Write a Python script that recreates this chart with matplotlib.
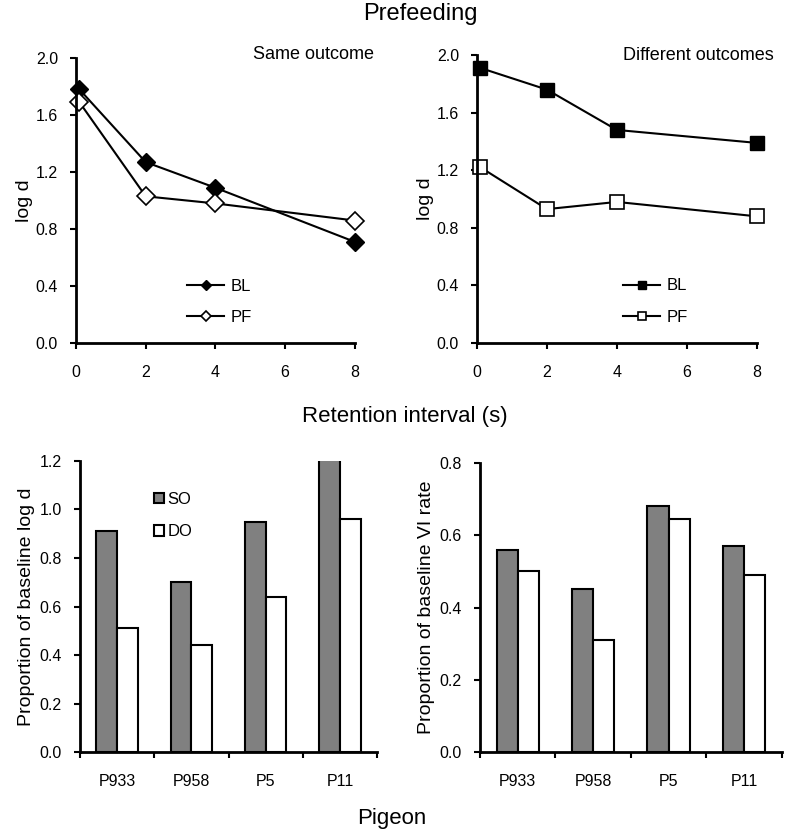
import matplotlib
matplotlib.use("Agg")
import matplotlib.pyplot as plt
import numpy as np

plt.rcParams['font.family'] = ['Liberation Sans', 'DejaVu Sans']

# retention intervals (s)
delays = [0.1, 2, 4, 8]

# same outcome
so_bl = [1.78, 1.27, 1.09, 0.71]
so_pf = [1.69, 1.03, 0.98, 0.86]

# different outcomes
do_bl = [1.91, 1.76, 1.48, 1.39]
do_pf = [1.22, 0.93, 0.98, 0.88]

# pigeons
pigeons = ["P933", "P958", "P5", "P11"]
logd_so = [0.91, 0.70, 0.95, 1.25]
logd_do = [0.51, 0.44, 0.64, 0.96]
vi_so = [0.56, 0.45, 0.68, 0.57]
vi_do = [0.50, 0.31, 0.645, 0.49]

fig = plt.figure(figsize=(7.9, 8.33), dpi=100)

def style(ax):
    for s in ["top", "right"]:
        ax.spines[s].set_visible(False)
    for s in ["left", "bottom"]:
        ax.spines[s].set_linewidth(2)
    ax.tick_params(axis="both", direction="out", length=4, width=1.5,
                   labelsize=11.5, colors="black")
    ax.tick_params(axis="y", pad=9)

ax1 = fig.add_axes([0.0962, 0.5882, 0.353, 0.342])
ax2 = fig.add_axes([0.6038, 0.5882, 0.354, 0.3457])
ax3 = fig.add_axes([0.1013, 0.0972, 0.376, 0.3494])
ax4 = fig.add_axes([0.6076, 0.0972, 0.382, 0.3470])

# top left
ax1.plot(delays, so_bl, color="black", lw=1.5, marker="D", ms=9,
         mfc="black", mec="black", label="BL")
ax1.plot(delays, so_pf, color="black", lw=1.5, marker="D", ms=9,
         mfc="white", mec="black", mew=1.2, label="PF")
ax1.text(1.07, 1.012, "Same outcome", transform=ax1.transAxes,
         ha="right", va="center", fontsize=13)

# top right
ax2.plot(delays, do_bl, color="black", lw=1.5, marker="s", ms=10,
         mfc="black", mec="black", label="BL")
ax2.plot(delays, do_pf, color="black", lw=1.5, marker="s", ms=10,
         mfc="white", mec="black", mew=1.2, label="PF")
ax2.text(1.06, 1.0, "Different outcomes", transform=ax2.transAxes,
         ha="right", va="center", fontsize=13)

for ax in (ax1, ax2):
    style(ax)
    ax.set_xlim(0, 8)
    ax.set_ylim(0, 2.0)
    ax.set_xticks([0, 2, 4, 6, 8])
    ax.set_yticks(np.arange(0, 2.01, 0.4))
    ax.set_yticklabels([f"{v:.1f}" for v in np.arange(0, 2.01, 0.4)])
    ax.tick_params(axis="x", pad=12)
    ax.set_ylabel("log d", fontsize=14, labelpad=2)
    for ln in ax.lines:
        ln.set_clip_on(False)

ax1.legend(loc="lower left", bbox_to_anchor=(0.345, 0.01), frameon=False,
           fontsize=12, handlelength=2.2, markerscale=0.6, labelspacing=1.0,
           handletextpad=0.4)
ax2.legend(loc="lower left", bbox_to_anchor=(0.47, 0.01), frameon=False,
           fontsize=12, handlelength=2.2, markerscale=0.6, labelspacing=1.0,
           handletextpad=0.4)

# bars
x = np.arange(len(pigeons))
w = 0.28
for ax, so, do, ylim, yt in ((ax3, logd_so, logd_do, 1.2, 0.2),
                             (ax4, vi_so, vi_do, 0.8, 0.2)):
    ax.bar(x - w / 2, so, w, color="#808080", edgecolor="black", lw=1.5,
           label="SO")
    ax.bar(x + w / 2, do, w, color="white", edgecolor="black", lw=1.5,
           label="DO")
    style(ax)
    ax.set_xlim(-0.5, len(pigeons) - 0.5)
    ax.set_ylim(0, ylim)
    ticks = np.arange(0, ylim + 0.001, yt)
    ax.set_yticks(ticks)
    ax.set_yticklabels([f"{v:.1f}" for v in ticks])
    ax.set_xticks(np.arange(-0.5, len(pigeons)), minor=False)
    ax.set_xticklabels([])
    ax.set_xticks(x, minor=True)
    ax.set_xticklabels(pigeons, minor=True)
    ax.tick_params(axis="x", which="minor", length=0, pad=16, labelsize=11.5)

ax3.set_ylabel("Proportion of baseline log d", fontsize=14, labelpad=3)
ax4.set_ylabel("Proportion of baseline VI rate", fontsize=14, labelpad=3)
ax3.legend(loc="upper left", bbox_to_anchor=(0.2, 0.945), frameon=False,
           fontsize=12, handlelength=0.6, handleheight=0.6,
           labelspacing=1.05, handletextpad=0.2)

fig.text(0.532, 0.983, "Prefeeding", ha="center", va="center", fontsize=17)
fig.text(0.5127, 0.4994, "Retention interval (s)", ha="center", va="center",
         fontsize=16)
fig.text(0.496, 0.017, "Pigeon", ha="center", va="center", fontsize=16)

fig.savefig("out.png", dpi=100)
